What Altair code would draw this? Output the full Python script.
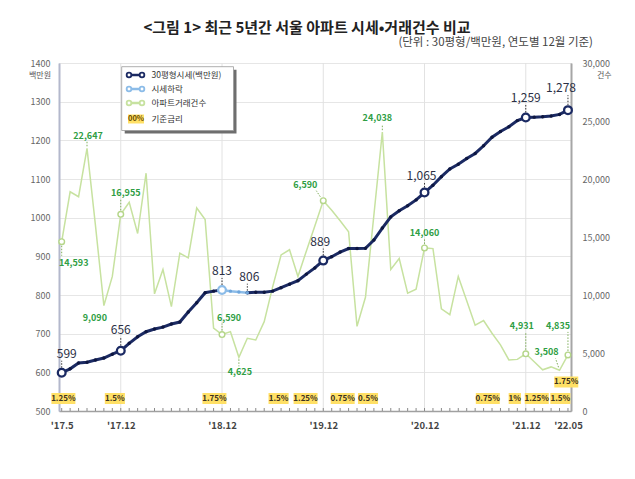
import json
import pandas as pd
import altair as alt

# monthly series, index 0 = 2017.05 ... 60 = 2022.05
price = [599, 609, 624, 626, 632, 637, 647, 656, 675, 692,
         705, 712, 717, 725, 730, 756, 780, 806, 810, 813,
         810, 808, 806, 807, 807, 810, 819, 828, 837, 854,
         870, 889, 899, 911, 920, 920, 921, 942, 973, 1002,
         1018, 1031, 1046, 1065, 1084, 1106, 1126, 1138, 1153, 1166,
         1186, 1208, 1223, 1235, 1251, 1259, 1260, 1261, 1263, 1267,
         1278]
volume = [14593, 18900, 18470, 22647, 16000, 9090, 11600, 16955, 18000, 15300,
          20500, 10100, 12200, 9000, 13600, 13200, 17500, 16500, 7150, 6590,
          6840, 4625, 6270, 6120, 7700, 10700, 13450, 13900, 11600, 13800,
          15950, 18130, 17300, 16400, 15450, 7300, 9800, 16900, 24038, 12200,
          13150, 10150, 10500, 14060, 14000, 8800, 8300, 11600, 9500, 7400,
          7800, 6700, 5700, 4400, 4450, 4931, 4250, 3550, 3800, 3508,
          4835]

tick_idx = [0, 7, 19, 31, 43, 55, 60]
tick_txt = ["'17.5", "'17.12", "'18.12", "'19.12", "'20.12", "'21.12", "'22.05"]

drop_from, drop_to = 19, 22          # 시세하락 구간
price_circle_idx = [0, 7, 31, 43, 55, 60]
price_label_idx = [0, 7, 19, 22, 31, 43, 55, 60]
vol_circle_idx = [0, 7, 19, 31, 43, 55, 60]
vol_label_idx = [0, 3, 5, 7, 19, 21, 31, 38, 43, 55, 59, 60]
vol_label_txt = ["14,593", "22,647", "9,090", "16,955", "6,590", "4,625",
                 "6,590", "24,038", "14,060", "4,931", "3,508", "4,835"]

rate_pos = [0.2, 6.3, 18.1, 25.7, 28.9, 33.3, 36.3, 50.5, 53.7, 56.3, 59.1, 59.8]
rate_txt = ['1.25%', '1.5%', '1.75%', '1.5%', '1.25%', '0.75%', '0.5%',
            '0.75%', '1%', '1.25%', '1.5%', '1.75%']

left_ticks = [500, 600, 700, 800, 900, 1000, 1100, 1200, 1300, 1400]
right_ticks = [0, 5000, 10000, 15000, 20000, 25000, 30000]

#%% data frames
months = list(range(len(price)))
pdf = pd.DataFrame({'m': months, 'p': price})
vdf = pd.DataFrame({'m': months, 'v': volume})
navy_df = pdf[(pdf.m <= drop_from) | (pdf.m >= drop_to)].copy()
navy_df['seg'] = (navy_df.m >= drop_to).astype(int)
blue_df = pdf[(pdf.m >= drop_from) & (pdf.m <= drop_to)]
vlab = pd.DataFrame({'m': vol_label_idx, 'v': [volume[i] for i in vol_label_idx], 't': vol_label_txt})
rdf = pd.DataFrame({'m': rate_pos, 'r': rate_txt})
one = pd.DataFrame({'k': [0]})

#%% styling
W, H = 512, 348
PX = 8.438  # px per month
NAVY = '#1b2a63'
LBLUE = '#8cbce8'
LGREEN = '#c7e2a0'
GTEXT = '#2f9e44'
FONT = 'Noto Sans CJK KR'

xscale = alt.Scale(domain=[-0.32, 60.36], nice=False, zero=False)
xaxis = alt.Axis(values=tick_idx, title=None, grid=False, ticks=False, tickSize=0,
                 labelExpr=json.dumps(tick_txt) + "[indexof(" + json.dumps(tick_idx) + ", datum.value)]",
                 labelFontSize=9.5, labelFontWeight='bold', labelColor='#444', labelPadding=9,
                 domainColor='#a0a0a0', domainWidth=1.5)


def X(f='m:Q'):
    return alt.X(f, scale=xscale, axis=xaxis)


YL = alt.Y('p:Q', scale=alt.Scale(domain=[500, 1400], nice=False, zero=False),
           axis=alt.Axis(values=left_ticks, orient='left', title=None, grid=True, gridColor='#e6e6e6',
                         labelExpr="format(datum.value, 'd')",
                         domainColor='#b3b8cc', domainWidth=2, ticks=False, tickSize=0,
                         labelPadding=9, labelFontSize=9, labelColor='#666'))
YR = alt.Y('v:Q', scale=alt.Scale(domain=[0, 30000], nice=False, zero=True),
           axis=alt.Axis(values=right_ticks, orient='right', title=None, grid=False,
                         labelExpr="format(datum.value, ',')",
                         domainColor='#a6a6a6', domainWidth=2, ticks=False, tickSize=0,
                         labelPadding=11, labelFontSize=9, labelColor='#666'))

#%% background: vertical grid and month ticks
vgrid = alt.Chart(pd.DataFrame({'m': tick_idx[1:-1]})).mark_rule(color='#e2e2e2', strokeWidth=1).encode(
    x=X(), y=alt.value(0), y2=alt.value(H))
mticks = alt.Chart(vdf).mark_rule(color='#8a8a8a', strokeWidth=1).encode(
    x=X(), y=alt.value(H), y2=alt.value(H - 3))

#%% volume group
vbase = alt.Chart(vdf)
v_layers = [vbase.mark_line(color=LGREEN, strokeWidth=1.5).encode(x=X(), y=YR)]

# (dx, dy) of the label, and leader (x1, y1, x2, y2) offsets from the point
v_off = {0: (12, 21, (0, 4, 0, 14)), 3: (1, -12, (0, -2, 0, -7)), 5: (-9, 12, None),
         7: (5, -21, (0, -4, 0, -15)), 19: (7, -17, (0, -4, 0, -11)), 21: (1, 15, (0, 2, 0, 9)),
         31: (-18, -16, (-3, -4, -7, -10)), 38: (-5, -14, (0, -2, 0, -8)),
         43: (0, -15, (0, -4, 0, -9)), 55: (-4, -28, (0, -4, 0, -22)),
         59: (-13, -18, (-1, -3, -4, -12)), 60: (-10, -29, (0, -4, 0, -23))}
for i in vol_label_idx:
    dx, dy, lead = v_off[i]
    b = alt.Chart(vlab).transform_filter(alt.datum.m == i)
    if lead:
        v_layers.append(b.mark_rule(color='#7fae5a', strokeDash=[1.5, 1.5], strokeWidth=1,
                                    xOffset=lead[0], yOffset=lead[1], x2Offset=lead[2], y2Offset=lead[3])
                        .encode(x=X(), x2='m:Q', y=YR, y2='v:Q'))
    v_layers.append(b.mark_text(dx=dx, dy=dy, fontSize=9, fontWeight='bold', color=GTEXT)
                    .encode(x=X(), y=YR, text='t:N'))
v_layers.append(vbase.transform_filter(alt.FieldOneOfPredicate(field='m', oneOf=vol_circle_idx))
                .mark_point(shape='circle', filled=True, fill='white', stroke='#b5d68a',
                            strokeWidth=1.4, size=32, opacity=1)
                .encode(x=X(), y=YR))
vol_group = alt.layer(*v_layers)

#%% price group
p_layers = [
    alt.Chart(navy_df).mark_line(color=NAVY, strokeWidth=3).encode(x=X(), y=YL, detail='seg:N'),
    alt.Chart(blue_df).mark_line(color=LBLUE, strokeWidth=2.5).encode(x=X(), y=YL),
    alt.Chart(navy_df).mark_point(shape='circle', filled=True, color='#0d1640', size=12, opacity=1)
    .encode(x=X(), y=YL),
    alt.Chart(blue_df).mark_point(shape='circle', filled=True, color='#6fa6dc', size=12, opacity=1)
    .encode(x=X(), y=YL),
]
p_off = {0: (5, -19, -5), 7: (0, -21, -5), 19: (0, -19, -5), 22: (2, -16, -2),
         31: (-3, -19, -5), 43: (-3, -17, -5), 55: (0, -20, -5), 60: (-7, -22, -5)}
for i in price_label_idx:
    dx, dy, y0 = p_off[i]
    b = alt.Chart(pdf).transform_filter(alt.datum.m == i)
    p_layers.append(b.mark_rule(color='#333', strokeDash=[1.5, 1.5], strokeWidth=1,
                                yOffset=y0, y2Offset=dy + 7).encode(x=X(), y=YL, y2='p:Q'))
    p_layers.append(b.mark_text(dx=dx, dy=dy, fontSize=12, color='#2b3045')
                    .encode(x=X(), y=YL, text=alt.Text('p:Q', format=',')))
p_layers.append(alt.Chart(pdf).transform_filter(alt.FieldOneOfPredicate(field='m', oneOf=price_circle_idx))
                .mark_point(shape='circle', filled=True, fill='white', stroke=NAVY,
                            strokeWidth=2.3, size=60, opacity=1).encode(x=X(), y=YL))
p_layers.append(alt.Chart(pdf).transform_filter(alt.datum.m == drop_from)
                .mark_point(shape='circle', filled=True, fill='white', stroke=LBLUE,
                            strokeWidth=2.3, size=60, opacity=1).encode(x=X(), y=YL))
price_group = alt.layer(*p_layers)

#%% 기준금리 boxes
rbase = alt.Chart(rdf).transform_calculate(
    hw="(length(datum.r) * 3.9 + 4.5) / 2 / " + str(PX),
    x1="datum.m - datum.hw", x2="datum.m + datum.hw")
rate_layers = []
for cond, yc in [("datum.m < 59.5", 335.5), ("datum.m >= 59.5", 319)]:
    rb = rbase.transform_filter(cond)
    rate_layers.append(rb.mark_rect(color='#ffe066').encode(
        x=X('x1:Q'), x2='x2:Q', y=alt.value(yc - 5.5), y2=alt.value(yc + 5.5)))
    rate_layers.append(rb.mark_text(fontSize=8, fontWeight='bold', color='#3a3020')
                       .encode(x=X(), y=alt.value(yc), text='r:N'))


#%% legend, titles
def box(x1, x2, y1, y2, **kw):
    return alt.Chart(one).mark_rect(**kw).encode(
        x=alt.value(x1), x2=alt.value(x2), y=alt.value(y1), y2=alt.value(y2))


def txt(x, y, s, **kw):
    return alt.Chart(one).mark_text(text=s, **kw).encode(x=alt.value(x), y=alt.value(y))


def seg(x1, x2, y, **kw):
    return alt.Chart(one).mark_rule(**kw).encode(x=alt.value(x1), x2=alt.value(x2), y=alt.value(y))


def ring(x, y, c):
    return alt.Chart(one).mark_point(shape='circle', filled=True, fill='white', stroke=c,
                                     strokeWidth=1.8, size=22, opacity=1).encode(
        x=alt.value(x), y=alt.value(y))


legend = [box(65.7, 177.5, 6.7, 70.5, color='#6e6e6e'),
          box(62.7, 174.5, 3.7, 67.5, fill='white', stroke='#9a9a9a', strokeWidth=0.8)]
for yy, c, s in [(12, NAVY, '30평형시세(백만원)'), (26, LBLUE, '시세하락'), (40, LGREEN, '아파트거래건수')]:
    legend += [seg(70, 83, yy, color=c, strokeWidth=2.5), ring(70, yy, c), ring(83, yy, c),
               txt(92.5, yy, s, align='left', fontSize=8.5, color='#333')]
legend += [box(69, 85, 51.5, 60.5, color='#ffe066'),
           txt(77, 56, '00%', fontSize=7.5, fontWeight='bold', color='#6b4c00'),
           txt(92.5, 56, '기준금리', align='left', fontSize=8.5, color='#333')]

titles = [txt(248, -35, '<그림 1> 최근 5년간 서울 아파트 시세•거래건수 비교',
              fontSize=15, fontWeight='bold', color='#222'),
          txt(534, -20, '(단위 : 30평형/백만원, 연도별 12월 기준)', align='right', fontSize=11.5, color='#444'),
          txt(-19, 13, '백만원', fontSize=8, color='#555'),
          txt(538, 13, '건수', align='left', fontSize=8, color='#555')]

chart = alt.layer(vgrid, mticks, vol_group, price_group, *rate_layers, *legend, *titles).resolve_scale(
    y='independent'
).properties(
    width=W, height=H,
    padding={'left': 51, 'top': 55, 'right': 50, 'bottom': 40},
    autosize=alt.AutoSizeParams(type='none'),
).configure(font=FONT).configure_view(stroke='#c8c8c8', strokeWidth=1)

chart.save("out.html", embed_options={"renderer": "svg", "actions": False})
